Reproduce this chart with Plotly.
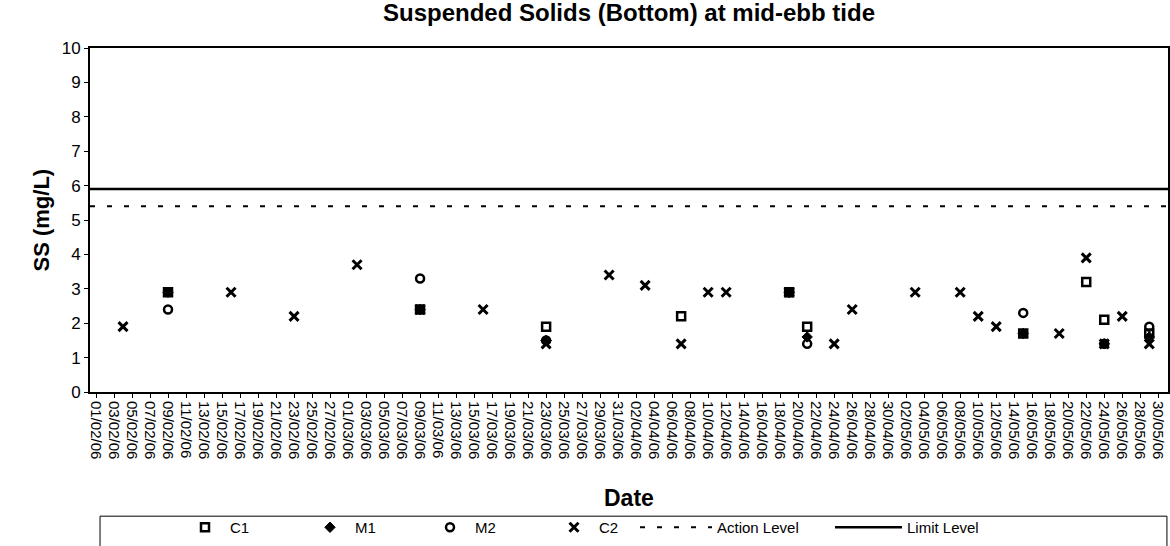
import plotly.graph_objects as go

# sampling dates / values (SS in mg/L)
c1_dates = ["2006-02-09", "2006-03-09", "2006-03-23", "2006-04-07", "2006-04-19",
            "2006-04-21", "2006-05-15", "2006-05-22", "2006-05-24", "2006-05-29"]
c1_ss = [2.9, 2.4, 1.9, 2.2, 2.9, 1.9, 1.7, 3.2, 2.1, 1.7]

m1_dates = ["2006-02-09", "2006-03-09", "2006-03-23", "2006-04-19", "2006-04-21",
            "2006-05-15", "2006-05-24", "2006-05-29"]
m1_ss = [2.9, 2.4, 1.5, 2.9, 1.6, 1.7, 1.4, 1.6]

m2_dates = ["2006-02-09", "2006-03-09", "2006-03-23", "2006-04-19", "2006-04-21",
            "2006-05-15", "2006-05-24", "2006-05-29"]
m2_ss = [2.4, 3.3, 1.5, 2.9, 1.4, 2.3, 1.4, 1.9]

c2_dates = ["2006-02-04", "2006-02-16", "2006-02-23", "2006-03-02", "2006-03-09",
            "2006-03-16", "2006-03-23", "2006-03-30", "2006-04-03", "2006-04-07",
            "2006-04-10", "2006-04-12", "2006-04-19", "2006-04-24", "2006-04-26",
            "2006-05-03", "2006-05-08", "2006-05-10", "2006-05-12", "2006-05-19",
            "2006-05-22", "2006-05-24", "2006-05-26", "2006-05-29"]
c2_ss = [1.9, 2.9, 2.2, 3.7, 2.4, 2.4, 1.4, 3.4, 3.1, 1.4,
         2.9, 2.9, 2.9, 1.4, 2.4, 2.9, 2.9, 2.2, 1.9, 1.7,
         3.9, 1.4, 2.2, 1.4]

action_level = 5.4
limit_level = 5.9

x_start = "2006-01-31 08:00"
x_end = "2006-05-31 02:00"

fig = go.Figure()

fig.add_trace(go.Scatter(x=c1_dates, y=c1_ss, mode="markers", name="C1", legend="legend",
                         marker=dict(symbol="square-open", size=8, color="black",
                                     line=dict(width=2.5, color="black"))))
fig.add_trace(go.Scatter(x=m1_dates, y=m1_ss, mode="markers", name="M1", legend="legend2",
                         marker=dict(symbol="diamond", size=8, color="black",
                                     line=dict(width=1, color="black"))))
fig.add_trace(go.Scatter(x=m2_dates, y=m2_ss, mode="markers", name="M2", legend="legend3",
                         marker=dict(symbol="circle-open", size=8, color="black",
                                     line=dict(width=2.5, color="black"))))
fig.add_trace(go.Scatter(x=c2_dates, y=c2_ss, mode="markers", name="C2", legend="legend4",
                         marker=dict(symbol="x-thin-open", size=9, color="black",
                                     line=dict(width=3, color="black"))))
fig.add_trace(go.Scatter(x=[x_start, x_end], y=[action_level, action_level],
                         mode="lines", name="Action Level", legend="legend5",
                         line=dict(color="black", width=2, dash="5px,12px")))
fig.add_trace(go.Scatter(x=[x_start, x_end], y=[limit_level, limit_level],
                         mode="lines", name="Limit Level", legend="legend6",
                         line=dict(color="black", width=2.5)))

fig.update_xaxes(
    type="date", range=[x_start, x_end], automargin=False,
    tick0="2006-02-01", dtick=2 * 86400000, tickformat="%d/%m/%y",
    tickangle=90, ticks="outside", ticklen=4, tickcolor="black",
    tickfont=dict(family="Liberation Sans", size=15, color="black"),
    showline=True, linecolor="black", linewidth=2, mirror=True,
    showgrid=False, zeroline=False,
)
fig.update_yaxes(
    range=[0, 10], dtick=1, automargin=False,
    ticks="outside", ticklen=4, tickcolor="black",
    tickfont=dict(family="Liberation Sans", size=17, color="black"),
    showline=True, linecolor="black", linewidth=2, mirror=True,
    showgrid=False, zeroline=False,
)

fig.add_annotation(text="<b>Date</b>", xref="paper", yref="paper", x=0.5, y=-0.309,
                   xanchor="center", yanchor="middle", showarrow=False,
                   font=dict(family="Liberation Sans", size=23, color="black"))
fig.add_annotation(text="<b>SS (mg/L)</b>", xref="paper", yref="paper", x=-0.045, y=0.5,
                   xanchor="center", yanchor="middle", textangle=-90, showarrow=False,
                   font=dict(family="Liberation Sans", size=22, color="black"))

# legend frame (runs off the bottom edge like the original)
fig.add_shape(type="rect", xref="paper", yref="paper", x0=0.0093, x1=0.999,
              y0=-0.45, y1=-0.361, line=dict(color="black", width=1))

# one legend per entry so the spacing can follow the original
leg_font = dict(family="Liberation Sans", size=15, color="black")
legend_left_px = [180, 305, 425, 549, 635, 830]
legend_item_w = [40, 40, 40, 40, 72, 67]
legends = {}
for i, (lx, iw) in enumerate(zip(legend_left_px, legend_item_w)):
    key = "legend" if i == 0 else "legend%d" % (i + 1)
    legends[key] = dict(orientation="h", x=(lx - 90) / 1078, xanchor="left",
                        y=-0.394, yanchor="middle", bgcolor="rgba(0,0,0,0)",
                        font=leg_font, itemwidth=iw)

fig.update_layout(
    width=1170, height=546,
    margin=dict(l=90, r=2, t=48, b=149),
    paper_bgcolor="white", plot_bgcolor="white",
    title=dict(text="<b>Suspended Solids (Bottom) at mid-ebb tide</b>",
               x=(90 + 1168) / 2 / 1170, xanchor="center", y=1 - 13 / 546, yanchor="middle",
               font=dict(family="Liberation Sans", size=24, color="black")),
    font=dict(family="Liberation Sans", color="black"),
    showlegend=True,
    **legends,
)

fig.write_html("out.html", config={"displayModeBar": False},
               post_script="document.body.style.margin='0';")
